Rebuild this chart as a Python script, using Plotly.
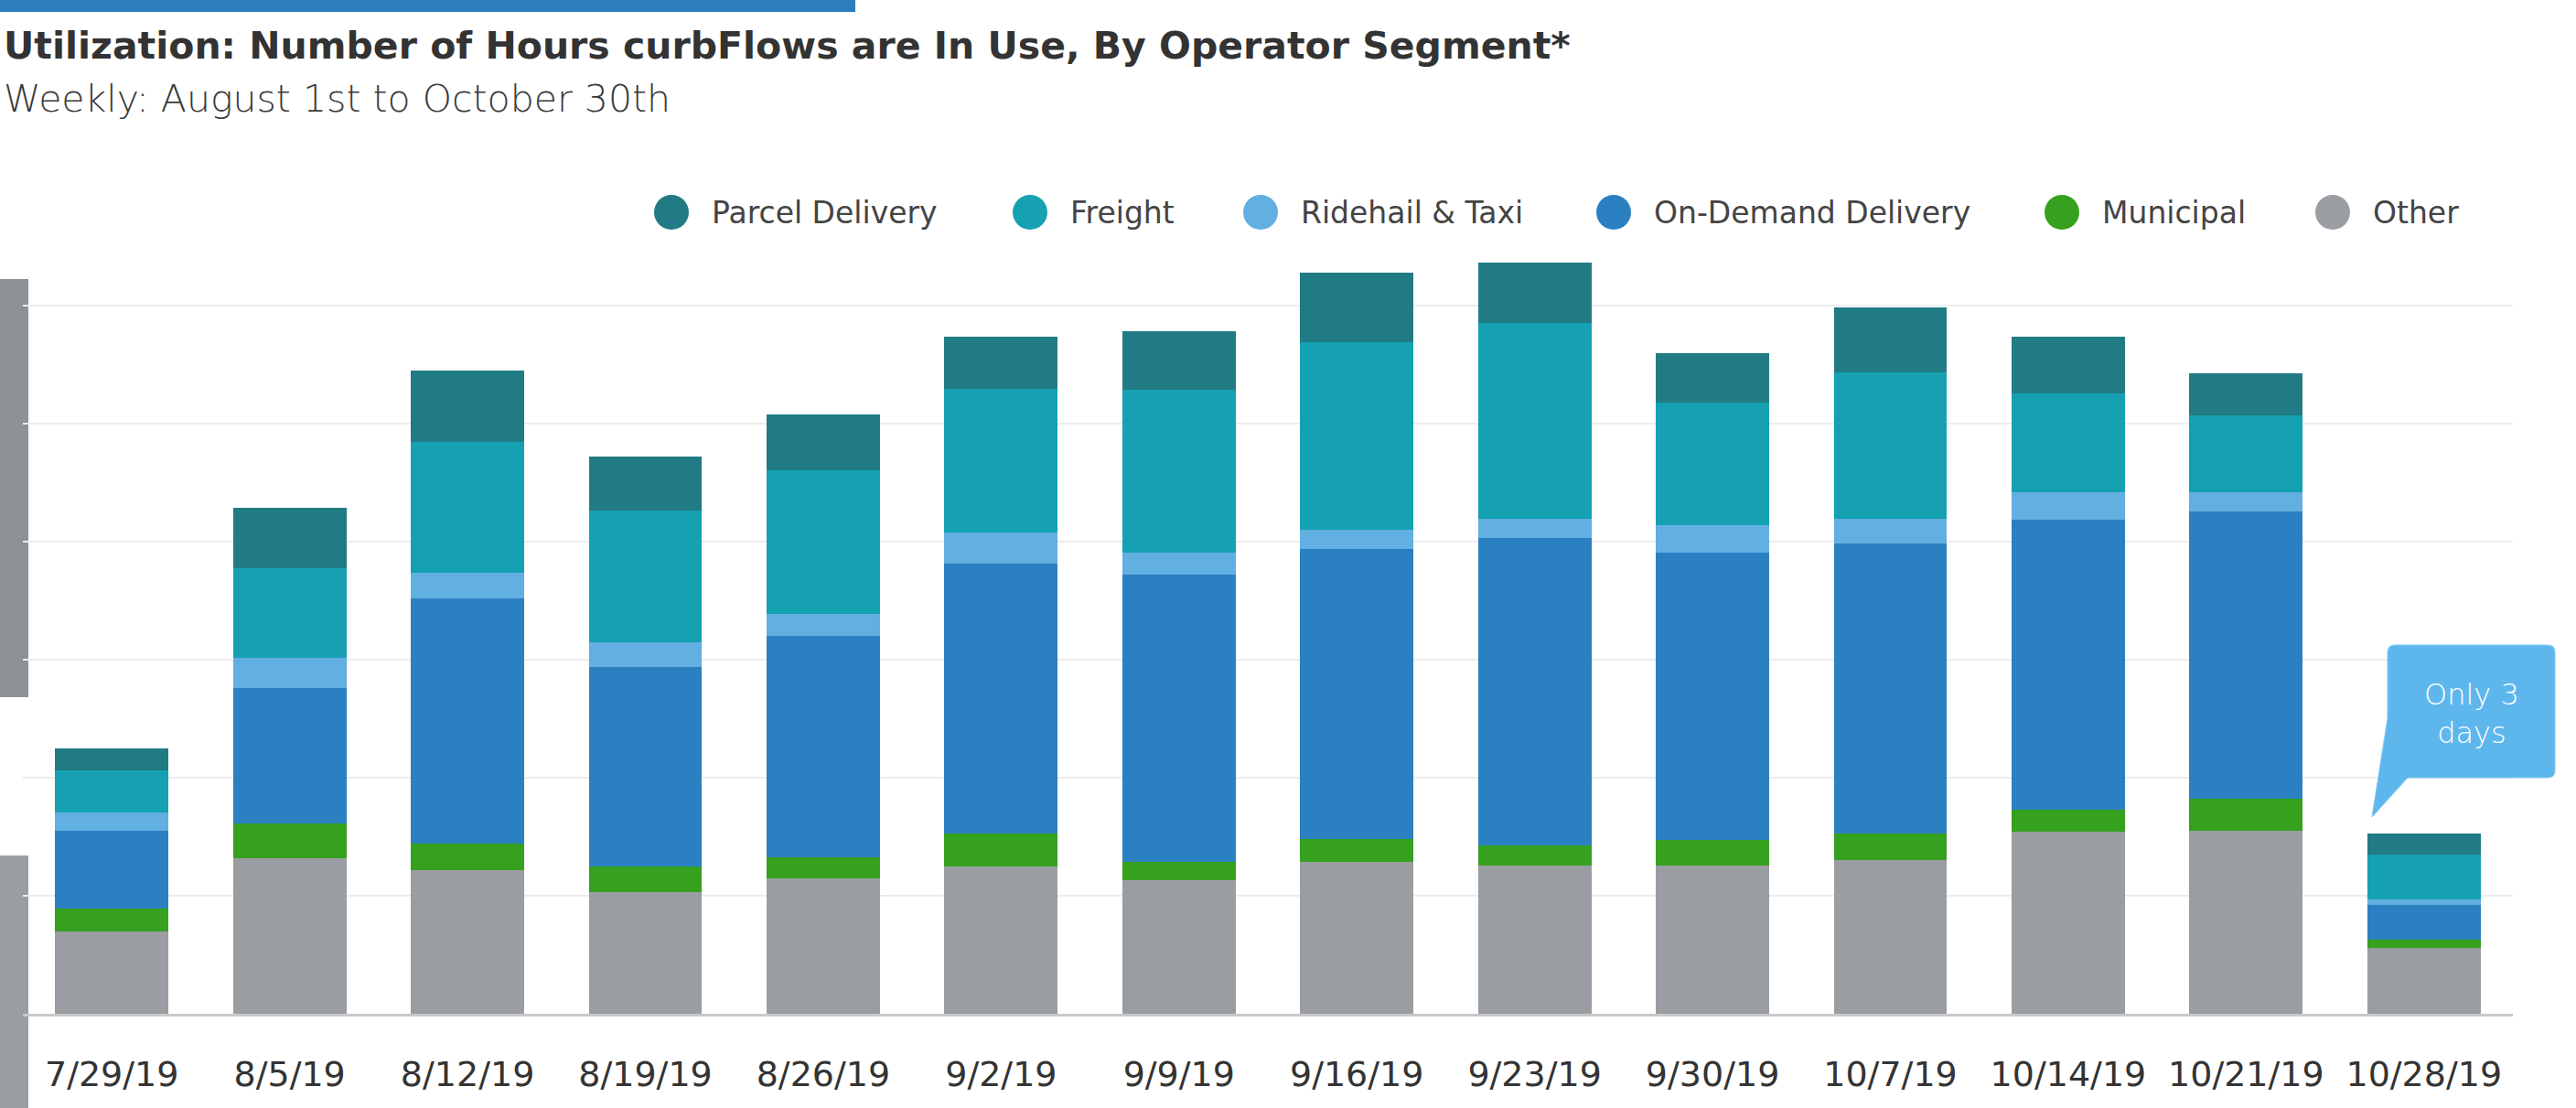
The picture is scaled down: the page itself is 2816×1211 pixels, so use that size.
import plotly.graph_objects as go

# ---------------- data ----------------
weeks = ["7/29/19", "8/5/19", "8/12/19", "8/19/19", "8/26/19", "9/2/19", "9/9/19",
         "9/16/19", "9/23/19", "9/30/19", "10/7/19", "10/14/19", "10/21/19", "10/28/19"]

other     = [70, 132, 122, 103, 115, 125, 113, 129, 126, 126, 130, 154, 155, 56]
municipal = [19, 29, 22, 22, 18, 28, 16, 19, 17, 21, 23, 19, 27, 7]
on_demand = [66, 115, 208, 169, 187, 229, 243, 246, 260, 244, 246, 246, 244, 29]
ridehail  = [16, 26, 22, 21, 19, 26, 19, 16, 17, 23, 21, 23, 16, 5]
freight   = [35, 76, 111, 112, 122, 122, 138, 159, 166, 104, 124, 84, 65, 38]
parcel    = [19, 51, 60, 45, 47, 44, 50, 59, 51, 42, 55, 48, 36, 18]

segment_names = ["Parcel Delivery", "Freight", "Ridehail & Taxi",
                 "On-Demand Delivery", "Municipal", "Other"]
segment_values = [parcel, freight, ridehail, on_demand, municipal, other]
segment_colors = ["#217b84", "#15a1b2", "#62afe2", "#2b80c1", "#36a01f", "#9a9ea3"]

title_text = "Utilization: Number of Hours curbFlows are In Use, By Operator Segment*"
subtitle_text = "Weekly: August 1st to October 30th"
callout_text = "Only 3<br>days"

FONT = "DejaVu Sans"

# ---------------- layout geometry (pixels) ----------------
W, H = 2816, 1211
L, R, T, B = 25, 2747, 270, 1108


def px(x):
    return (x - L) / (R - L)


def py(y):
    return (B - y) / (B - T)


fig = go.Figure()

# stack bottom -> top
for name, vals, col in reversed(list(zip(segment_names, segment_values, segment_colors))):
    fig.add_trace(go.Bar(x=weeks, y=vals, name=name, marker_color=col,
                         marker_line_width=0, showlegend=False))

shapes = []
annotations = []

# background clutter strips of the screenshot
shapes.append(dict(type="rect", xref="paper", yref="paper", x0=px(0), x1=px(31), y0=py(762), y1=py(305),
                   fillcolor="#8d9297", line_width=0, layer="below"))
shapes.append(dict(type="rect", xref="paper", yref="paper", x0=px(0), x1=px(31), y0=py(1211), y1=py(935),
                   fillcolor="#9a9ea2", line_width=0, layer="below"))
shapes.append(dict(type="rect", xref="paper", yref="paper", x0=px(0), x1=px(935), y0=py(13), y1=py(0),
                   fillcolor="#2c7cbe", line_width=0, layer="below"))

# title & subtitle
annotations.append(dict(text="<b>" + title_text + "</b>", xref="paper", yref="paper",
                        x=px(2), y=py(50), xanchor="left", yanchor="middle", showarrow=False,
                        font=dict(family=FONT, size=41, color="#333333")))
annotations.append(dict(text=subtitle_text, xref="paper", yref="paper",
                        x=px(2), y=py(108), xanchor="left", yanchor="middle", showarrow=False,
                        font=dict(family=FONT, size=41, color="#3a3a3a", weight=200)))

# custom legend (circles)
legend_circle_x = [734, 1126, 1378, 1764, 2254, 2550]
legend_y = 232
rad = 19
for name, col, cx in zip(segment_names, segment_colors, legend_circle_x):
    shapes.append(dict(type="circle", xref="paper", yref="paper",
                       x0=px(cx - rad), x1=px(cx + rad), y0=py(legend_y + rad), y1=py(legend_y - rad),
                       fillcolor=col, line_width=0))
    annotations.append(dict(text=name, xref="paper", yref="paper", x=px(cx + 42), y=py(legend_y),
                            xanchor="left", yanchor="middle", showarrow=False,
                            font=dict(family=FONT, size=33, color="#444444")))

# callout bubble
bx0, bx1, by0, by1, rr = 2610, 2793, 705, 850, 8
pts = [
    ("M", bx0 + rr, by0), ("L", bx1 - rr, by0), ("Q", bx1, by0, bx1, by0 + rr),
    ("L", bx1, by1 - rr), ("Q", bx1, by1, bx1 - rr, by1), ("L", 2632, by1),
    ("L", 2593, 893), ("L", bx0, 785), ("L", bx0, by0 + rr), ("Q", bx0, by0, bx0 + rr, by0),
]
path = ""
for p in pts:
    cmd = p[0]
    coords = p[1:]
    seg = []
    for i in range(0, len(coords), 2):
        seg.append(f"{px(coords[i]):.5f},{py(coords[i + 1]):.5f}")
    path += cmd + " " + " ".join(seg) + " "
path += "Z"
shapes.append(dict(type="path", xref="paper", yref="paper", path=path,
                   fillcolor="#56b4ec", line=dict(color="#7cc6f2", width=1), opacity=0.95))
annotations.append(dict(text=callout_text, xref="paper", yref="paper", x=px(2702), y=py(780),
                        xanchor="center", yanchor="middle", showarrow=False,
                        font=dict(family=FONT, size=32, color="#ffffff", weight=200)))

fig.update_layout(
    width=W, height=H,
    margin=dict(l=L, r=W - R, t=T, b=H - B, pad=0),
    paper_bgcolor="#ffffff", plot_bgcolor="#ffffff",
    barmode="stack", bargap=0.363,
    showlegend=False,
    shapes=shapes, annotations=annotations,
    xaxis=dict(type="category", showline=True, linecolor="#c9c9c9", linewidth=3,
               ticks="", showgrid=False, ticklabelstandoff=30,
               tickfont=dict(family=FONT, size=38, color="#333333")),
    yaxis=dict(range=[0, 650], dtick=100, showticklabels=False, showgrid=True,
               gridcolor="#ececec", gridwidth=2, zeroline=False, ticks=""),
    font=dict(family=FONT),
)

fig.write_html("out.html", config={"displayModeBar": False},
               post_script="document.body.style.margin='0';document.body.style.overflow='hidden';")
